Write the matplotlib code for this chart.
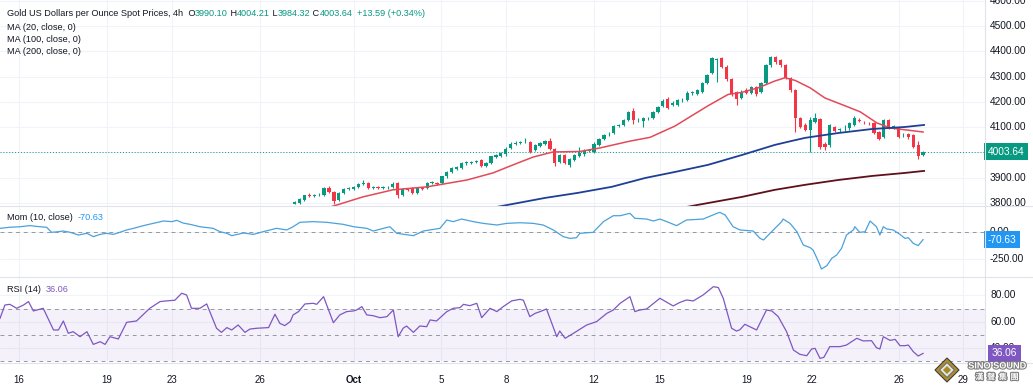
import matplotlib
matplotlib.use('Agg')
import matplotlib.pyplot as plt
import matplotlib.patheffects as pe
from matplotlib.lines import Line2D
from matplotlib.patches import Polygon

plt.rcParams['font.family'] = ['Liberation Sans', 'DejaVu Sans']

# ---------------------------------------------------------
# Data (4h bars; x is the bar number)
# ---------------------------------------------------------
first_bar = 60
opens = [3797, 3800, 3812, 3830, 3828, 3830, 3832, 3860, 3842, 3810,
         3838, 3856, 3857, 3862, 3876, 3878, 3860, 3862, 3860, 3862,
         3862, 3878, 3832, 3855, 3858, 3840, 3858, 3858, 3879, 3880,
         3878, 3905, 3922, 3935, 3940, 3958, 3960, 3964, 3972, 3946,
         3960, 3982, 3988, 3992, 4018, 4035, 4038, 4040, 4042, 4008,
         4026, 4034, 4044, 4012, 3962, 3990, 3952, 3972, 3988, 3992,
         4004, 4000, 4030, 4054, 4072, 4078, 4105, 4110, 4128, 4165,
         4128, 4126, 4136, 4138, 4160, 4186, 4212, 4190, 4190, 4206,
         4206, 4234, 4232, 4240, 4276, 4315, 4368, 4375, 4340, 4290,
         4240, 4215, 4248, 4236, 4258, 4240, 4275, 4347, 4378, 4365,
         4347, 4295, 4248, 4135, 4110, 4090, 4120, 4132, 4035, 4028,
         4100, 4088, 4092, 4095, 4108, 4128, 4122, 4118, 4116, 4080,
         4062, 4130, 4100, 4098, 4068, 4074, 4068, 4030, 3990.10]
highs = [3806, 3818, 3833, 3840, 3836, 3838, 3865, 3866, 3846, 3842,
         3860, 3864, 3868, 3880, 3890, 3882, 3868, 3866, 3866, 3868,
         3882, 3884, 3858, 3860, 3862, 3862, 3862, 3884, 3886, 3884,
         3908, 3925, 3942, 3946, 3962, 3966, 3968, 3972, 3976, 3964,
         3988, 3994, 4000, 4020, 4040, 4044, 4046, 4056, 4046, 4032,
         4040, 4048, 4058, 4016, 3994, 3994, 3978, 3994, 4020, 4014,
         4012, 4040, 4058, 4074, 4080, 4108, 4114, 4132, 4164, 4178,
         4136, 4140, 4142, 4164, 4186, 4210, 4218, 4202, 4212, 4214,
         4242, 4242, 4252, 4280, 4312, 4380, 4376, 4380, 4345, 4295,
         4245, 4246, 4255, 4262, 4262, 4280, 4352, 4382, 4382, 4370,
         4350, 4300, 4252, 4140, 4115, 4140, 4155, 4138, 4040, 4112,
         4106, 4098, 4110, 4120, 4145, 4135, 4126, 4122, 4120, 4085,
         4134, 4134, 4108, 4102, 4076, 4078, 4072, 4045, 4004.21]
lows = [3794, 3797, 3808, 3822, 3824, 3826, 3828, 3838, 3795, 3806,
        3834, 3850, 3853, 3858, 3870, 3856, 3854, 3855, 3856, 3857,
        3858, 3820, 3828, 3846, 3836, 3836, 3850, 3854, 3874, 3872,
        3874, 3900, 3918, 3930, 3936, 3952, 3956, 3960, 3942, 3942,
        3956, 3978, 3984, 3988, 4014, 4030, 4034, 4036, 3998, 4004,
        4022, 4030, 4008, 3946, 3958, 3954, 3944, 3968, 3984, 3988,
        4000, 3996, 4026, 4050, 4066, 4074, 4100, 4106, 4124, 4112,
        4122, 4100, 4130, 4134, 4156, 4182, 4172, 4184, 4186, 4200,
        4202, 4228, 4228, 4236, 4270, 4310, 4280, 4335, 4285, 4225,
        4188, 4210, 4230, 4230, 4222, 4236, 4270, 4340, 4352, 4340,
        4290, 4240, 4082, 4095, 4085, 4003, 4115, 4015, 4010, 4022,
        4080, 4082, 4086, 4090, 4104, 4120, 4114, 4110, 4074, 4048,
        4058, 4092, 4094, 4058, 4060, 4055, 4016, 3975, 3984.32]
closes = [3803, 3815, 3830, 3828, 3830, 3833, 3860, 3842, 3808, 3838,
          3856, 3858, 3864, 3876, 3878, 3860, 3862, 3860, 3862, 3863,
          3876, 3832, 3855, 3852, 3840, 3858, 3856, 3880, 3881, 3876,
          3905, 3922, 3938, 3942, 3958, 3960, 3964, 3966, 3946, 3960,
          3985, 3990, 3996, 4015, 4035, 4038, 4040, 4042, 4002, 4028,
          4036, 4044, 4012, 3960, 3990, 3958, 3975, 3990, 3998, 4006,
          4008, 4032, 4054, 4070, 4074, 4105, 4108, 4128, 4160, 4128,
          4130, 4136, 4138, 4160, 4182, 4205, 4178, 4195, 4206, 4208,
          4236, 4238, 4248, 4276, 4307, 4373, 4370, 4340, 4290, 4230,
          4210, 4240, 4235, 4258, 4232, 4275, 4347, 4378, 4360, 4345,
          4295, 4248, 4135, 4100, 4090, 4128, 4135, 4022, 4020, 4108,
          4085, 4092, 4094, 4115, 4138, 4125, 4120, 4116, 4078, 4055,
          4130, 4098, 4104, 4062, 4070, 4060, 4020, 3985, 4003.64]

ma20_x = [64, 68.6, 73.9, 80.0, 87.0, 95.1, 100.4, 104.5, 108.6, 112.6, 118.1,
          122.2, 128.3, 132.4, 137.5, 140.5, 144.2, 148.3, 151.1, 154.4, 157.8,
          159.9, 162.0, 165.0, 168.0, 171.7, 175.2, 178.6, 181.3, 184.7, 188.0]
ma20_y = [3765, 3792, 3824, 3852, 3864, 3891, 3919, 3951, 3982, 4002, 4004,
          4018, 4045, 4060, 4105, 4141, 4185, 4230, 4238, 4256, 4283,
          4296, 4285, 4256, 4216, 4188, 4161, 4117, 4097, 4089, 4081]
ma100_x = [98, 103.3, 111.0, 117.7, 124.6, 131.4, 137.5, 144.2, 151.1,
           157.8, 161.3, 164.0, 170.7, 177.6, 184.3, 188.2]
ma100_y = [3773, 3792, 3820, 3840, 3864, 3899, 3923, 3951, 3990,
           4030, 4046, 4058, 4077, 4093, 4101, 4109]
ma200_x = [137, 142.0, 151.1, 157.8, 164.0, 170.7, 177.6, 184.3, 188.2]
ma200_y = [3774, 3792, 3824, 3852, 3872, 3891, 3907, 3919, 3927]

mom_x = [0, 2.0, 4.1, 6.1, 8.1, 9.5, 10.5, 11.9, 12.9, 14.3, 16.0, 17.7, 19.0,
         20.4, 21.7, 23.1, 24.4, 25.8, 27.2, 29.2, 31.2, 33.3, 35.0, 36.0, 37.3,
         38.7, 40.7, 43.4, 44.8, 46.2, 47.2, 49.6, 51.6, 53.6, 55.0, 56.3, 58.4,
         59.7, 61.1, 63.8, 66.5, 69.9, 72.0, 74.7, 76.0, 78.1, 79.4, 80.8, 84.2,
         86.2, 89.6, 91.0, 92.3, 94.0, 96.4, 98.4, 101.2, 103.2, 105.9, 108.6,
         110.6, 112.7, 114.7, 116.1, 117.4, 118.1, 120.8, 122.9, 124.9, 126.3,
         128.3, 129.3, 131.7, 133.1, 134.4, 135.8, 137.8, 139.8, 143.2, 146.0,
         146.6, 147.7, 149.3, 150.7, 153.4, 154.8, 155.5, 157.5, 159.2, 159.5,
         160.9, 162.3, 163.6, 165.0, 165.6, 166.7, 167.3, 168.4, 169.4, 170.4,
         171.4, 172.4, 173.8, 174.1, 175.1, 176.2, 177.2, 178.5, 179.2, 179.9,
         180.6, 181.9, 183.3, 184.3, 185.0, 186.0, 187.0, 188.0]
mom_y = [34, 44, 49, 59, 49, 44, -3, 3, 9, -3, -28, -12, -43,
         -22, -12, -22, -3, 19, 34, 59, 80, 102, 96, 108, 83,
         71, 49, 34, 3, -12, -34, -9, -22, 3, 19, 34, 19,
         49, 90, 96, 90, 71, 49, 34, 9, 34, 49, -12, -34,
         9, 34, 111, 96, 120, 96, 80, 65, 80, 86, 80,
         65, 19, -43, -59, -53, -12, -3, 96, 151, 151,
         173, 127, 120, 102, 120, 96, 59, 111, 120, 173,
         182, 157, 49, 19, 9, -59, -74, 19, 96, 120,
         80, 3, -120, -145, -167, -275, -343, -312, -244, -213,
         -151, -28, 19, 49, -3, 3, 102, 49, -28, 49,
         28, 19, -22, -59, -53, -105, -126, -70.63]

rsi_x = [0, 1.0, 2.0, 3.4, 4.8, 5.8, 6.8, 8.8, 10.9, 11.9, 12.9, 13.9, 14.9,
         16.3, 17.7, 19.0, 20.4, 21.4, 22.4, 24.1, 25.8, 27.8, 30.5, 32.6, 33.9,
         35.6, 37.0, 38.0, 39.0, 40.7, 42.1, 44.1, 45.1, 46.2, 47.2, 48.5, 49.9,
         50.9, 52.3, 54.7, 56.0, 57.0, 58.0, 59.1, 59.7, 60.8, 62.1, 63.8, 64.5,
         65.9, 67.9, 69.2, 70.6, 72.0, 72.6, 73.7, 74.7, 76.0, 77.4, 78.8, 80.1,
         81.1, 82.1, 82.8, 84.2, 85.5, 86.9, 87.6, 88.9, 91.0, 92.3, 93.7, 94.4,
         95.7, 97.1, 98.1, 99.8, 101.2, 102.5, 104.2, 105.9, 106.6, 107.9, 109.0,
         110.0, 111.3, 113.4, 114.0, 115.1, 116.8, 119.5, 121.5, 123.6, 124.9,
         126.3, 128.3, 129.3, 130.3, 131.7, 134.4, 137.1, 138.5, 139.8, 141.2,
         143.2, 145.3, 146.3, 147.3, 149.0, 150.0, 150.7, 151.7, 152.7, 154.1,
         156.1, 157.2, 158.5, 160.2, 161.6, 162.9, 164.3, 165.3, 166.0, 167.0,
         167.8, 169.0, 171.1, 172.4, 174.5, 175.8, 177.5, 178.5, 179.2, 179.9,
         181.3, 182.3, 183.3, 184.3, 185.0, 186.0, 187.0, 188.0]
rsi_y = [62.6, 72.7, 73.2, 70.2, 72.7, 75.3, 68.2, 70.2, 53.8, 53.8, 60.6, 51.3, 52.5,
         48.7, 52.5, 42.9, 44.9, 42.9, 48.7, 47.0, 59.6, 60.6, 70.2, 75.3, 75.8,
         76.3, 81.6, 80.3, 70.2, 70.2, 73.5, 55.1, 52.0, 55.6, 53.8, 57.6, 52.0,
         54.5, 55.1, 55.6, 65.7, 58.8, 57.1, 60.1, 65.2, 67.7, 73.5, 74.0, 73.2,
         79.0, 59.3, 65.2, 67.7, 68.2, 68.9, 71.5, 65.2, 64.6, 63.1, 63.9, 68.9,
         48.7, 55.1, 56.8, 52.0, 56.8, 56.3, 61.4, 60.6, 67.7, 70.2, 70.7, 73.2,
         72.2, 74.0, 63.1, 70.2, 67.7, 71.5, 75.8, 77.0, 76.3, 63.9, 66.4,
         67.7, 69.7, 48.7, 53.0, 47.5, 51.3, 57.6, 60.1, 66.4, 68.9,
         74.0, 79.0, 67.7, 68.9, 69.7, 77.8, 72.0, 74.7, 76.5, 75.8,
         80.3, 86.6, 85.9, 77.8, 55.1, 53.0, 54.0, 58.1, 56.3, 53.8,
         68.9, 68.2, 63.9, 52.5, 38.6, 35.4, 34.3, 39.4, 39.9, 32.3,
         33.1, 41.2, 41.2, 42.4, 47.5, 45.5, 45.7, 40.4, 39.4, 48.7,
         45.9, 46.7, 41.9, 41.9, 42.4, 37.4, 34.1, 36.06]

date_ticks = [3.9, 21.8, 35.0, 53.0, 72.1, 89.8, 103.1, 121.0, 134.4, 152.1, 165.4, 183.1, 196.1]
date_labels = ['16', '19', '23', '26', 'Oct', '5', '8', '12', '15', '19', '22', '26', '29']
price_ticks = [3800, 3900, 4000, 4100, 4200, 4300, 4400, 4500, 4600]
mom_ticks = [0, -250]
rsi_ticks = [40, 60, 80]

last_price = 4003.64
last_mom = -70.63
last_rsi = 36.06
ohlc_text = [('O', '3990.10'), ('H', '4004.21'), ('L', '3984.32'), ('C', '4003.64')]
change_text = '+13.59 (+0.34%)'

# ---------------------------------------------------------
# Layout
# ---------------------------------------------------------
W, H = 1033, 392
PX_PER_BAR = 4.91
plot_end = 985 / PX_PER_BAR      # right edge of plotting area (bars)
label_x = 990 / PX_PER_BAR       # right-hand axis labels

UP, DOWN = '#089981', '#f23645'
TXT = '#131722'
GRID = '#f0f3fa'
FS = 7.3      # price-scale labels
FS_T = 7.0    # time labels
FS_LEG = 6.6  # pane legends

fig = plt.figure(figsize=(W / 100, H / 100), dpi=100)
fig.patch.set_facecolor('white')


def pane(top, bottom):
    ax = fig.add_axes([0, 1 - bottom / H, 1, (bottom - top) / H])
    ax.set_xlim(0, W / PX_PER_BAR)
    ax.set_xticks([])
    ax.set_yticks([])
    for s in ax.spines.values():
        s.set_visible(False)
    for t in date_ticks:
        ax.axvline(t, color=GRID, lw=0.8, zorder=0)
    return ax


ax_p = pane(0, 206)
ax_m = pane(206, 277)
ax_r = pane(277, 363)
ax_p.set_ylim(3788, 4604)
ax_m.set_ylim(-417, 241)
ax_r.set_ylim(28.8, 93.9)


def right_labels(ax, ticks):
    for v in ticks:
        ax.hlines(v, 0, plot_end, color=GRID, lw=0.8, zorder=0)
        ax.text(label_x, v, f'{v:.2f}', va='center', ha='left', fontsize=FS,
                color=TXT, clip_on=True)


right_labels(ax_p, price_ticks)
right_labels(ax_m, mom_ticks)
right_labels(ax_r, rsi_ticks)

# ---------------------------------------------------------
# Price pane: candles + moving averages
# ---------------------------------------------------------
xs = [first_bar + i for i in range(len(closes))]
cols = [UP if c >= o else DOWN for o, c in zip(opens, closes)]
bodies = [max(abs(c - o), 2.5) for o, c in zip(opens, closes)]
bottoms = [min(o, c) for o, c in zip(opens, closes)]
ax_p.vlines(xs, lows, highs, colors=cols, lw=0.8, zorder=3)
ax_p.bar(xs, bodies, bottom=bottoms, width=0.66, color=cols, lw=0, zorder=4)

ax_p.plot(ma20_x, ma20_y, color='#e24a57', lw=1.1, zorder=5)
ax_p.plot(ma100_x, ma100_y, color='#1f3f96', lw=1.3, zorder=5)
ax_p.plot(ma200_x, ma200_y, color='#5e1019', lw=1.3, zorder=5)

ax_p.hlines(last_price, 0, plot_end, colors=UP, linestyles=(0, (1, 2)), lw=0.7, zorder=2)
ax_p.text(988 / PX_PER_BAR, last_price, f'{last_price:.2f}', va='center', ha='left',
          fontsize=FS, color='white', zorder=10,
          bbox=dict(boxstyle='square,pad=0.35', fc=UP, ec='none'))

# ---------------------------------------------------------
# Momentum pane
# ---------------------------------------------------------
ax_m.hlines(0, 0, plot_end, colors='#9598a1', linestyles=(0, (4, 4)), lw=0.7, zorder=1)
ax_m.plot(mom_x, mom_y, color='#4aa2dc', lw=0.9, zorder=3)
ax_m.text(988 / PX_PER_BAR, last_mom, f'{last_mom:.2f}', va='center', ha='left',
          fontsize=FS, color='white', zorder=10,
          bbox=dict(boxstyle='square,pad=0.35', fc='#2196f3', ec='none'))

# ---------------------------------------------------------
# RSI pane
# ---------------------------------------------------------
ax_r.fill_between([0, plot_end], 30, 70, color='#7e57c2', alpha=0.08, lw=0, zorder=0)
for lvl in [70, 50, 30]:
    ax_r.hlines(lvl, 0, plot_end, colors='#9598a1', linestyles=(0, (4, 4)), lw=0.7, zorder=1)
ax_r.plot(rsi_x, rsi_y, color='#7e57c2', lw=0.9, zorder=3)
ax_r.text(992 / PX_PER_BAR, last_rsi, f'{last_rsi:.2f}', va='center', ha='left',
          fontsize=FS, color='white', zorder=10,
          bbox=dict(boxstyle='square,pad=0.35', fc='#7e57c2', ec='none'))

# time axis labels
for t, lab in zip(date_ticks, date_labels):
    ax_r.text(t, -0.2, lab, transform=ax_r.get_xaxis_transform(), ha='center', va='center',
              fontsize=FS_T, color=TXT, fontweight='bold' if lab == 'Oct' else 'normal',
              clip_on=False)

# pane separators
for yy in [206, 277, 363]:
    fig.add_artist(Line2D([0, 1], [1 - yy / H] * 2, color='#e0e3eb', lw=0.8))
fig.add_artist(Line2D([985 / W] * 2, [1 - 363 / H, 1], color='#e0e3eb', lw=0.8))


# ---------------------------------------------------------
# Legends in the top-left corners
# ---------------------------------------------------------
def chain(ax, x_px, y_px, parts):
    t = fig.text(x_px / W, 1 - y_px / H, parts[0][0], color=parts[0][1],
                 fontsize=FS_LEG, va='center', ha='left', zorder=20)
    for s, c in parts[1:]:
        t = ax.annotate(s, xy=(1, 0), xycoords=t, va='bottom', ha='left',
                        color=c, fontsize=FS_LEG, annotation_clip=False, zorder=20)
    return t


head = [('Gold US Dollars per Ounce Spot Prices, 4h ', TXT)]
for k, v in ohlc_text:
    head += [(' ' + k, TXT), (v, UP)]
head += [('  ' + change_text, UP)]
chain(ax_p, 7, 14, head)
chain(ax_p, 7, 27, [('MA (20, close, 0)', TXT)])
chain(ax_p, 7, 40, [('MA (100, close, 0)', TXT)])
chain(ax_p, 7, 52, [('MA (200, close, 0)', TXT)])
chain(ax_m, 7, 218, [('Mom (10, close)  ', TXT), (f'{last_mom:.2f}', '#2196f3')])
chain(ax_r, 7, 290, [('RSI (14)  ', TXT), (f'{last_rsi:.2f}', '#7e57c2')])


# ---------------------------------------------------------
# Watermark (bottom-right logo)
# ---------------------------------------------------------
def diamond(cx, cy, r, fc, ec):
    pts = [((cx + dx) / W, 1 - (cy + dy) / H) for dx, dy in [(0, -r), (r, 0), (0, r), (-r, 0)]]
    fig.add_artist(Polygon(pts, closed=True, fc=fc, ec=ec, lw=0.8, zorder=30))


diamond(947, 370, 12, '#b08d2c', '#3d3d3d')
diamond(947, 370, 7.5, '#dfe9d6', '#6d6d6d')
diamond(947, 370, 4, '#a8862a', 'none')
outline = [pe.withStroke(linewidth=1.6, foreground='#7d7d7d')]
fig.text(997 / W, 1 - 366 / H, 'SINO SOUND', fontsize=6.6, color='white', ha='center',
         va='center', fontweight='bold', path_effects=outline, zorder=31)
fig.text(997 / W, 1 - 377 / H, '漢  聲  集  團', fontsize=5.8, color='white', ha='center',
         va='center', fontweight='bold', path_effects=outline, zorder=31,
         family=['Noto Sans CJK TC', 'DejaVu Sans'])

fig.savefig('out.png', dpi=100)
